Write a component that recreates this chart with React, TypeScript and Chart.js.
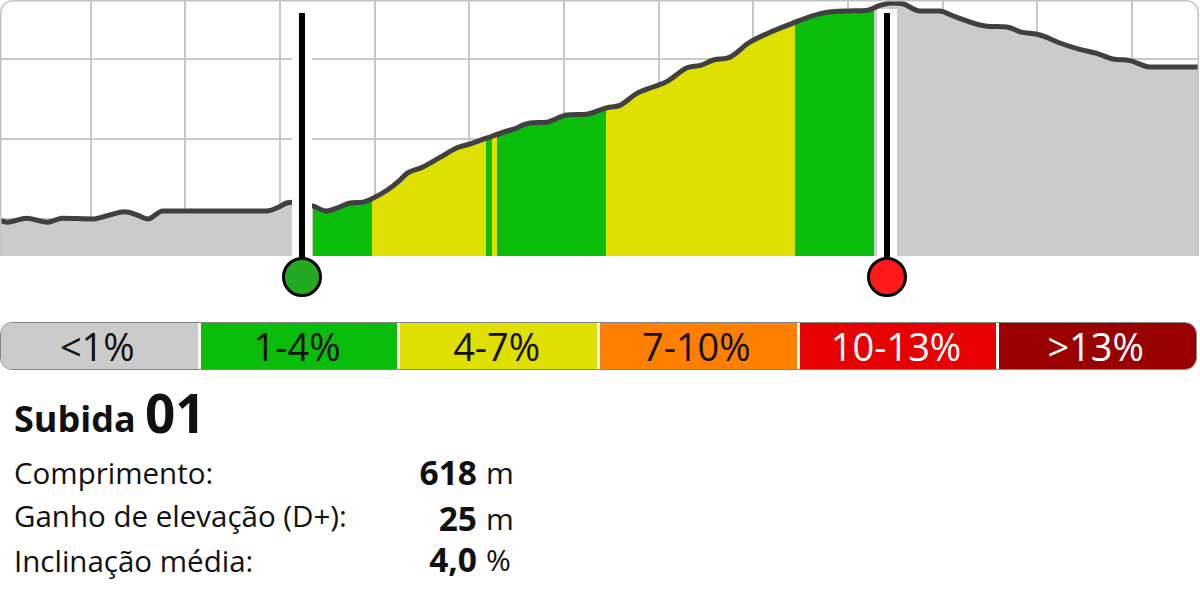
import React, { useEffect, useRef } from 'react';
import Chart from 'chart.js/auto';

// profile: distance (m) / elevation (m)
const distance = [
    4, 12, 32, 54, 70, 102, 117, 136, 149, 160, 176, 187, 286, 297, 307, 313, 323, 335, 349, 363,
    374, 387, 398, 413, 427, 434, 451, 469, 487, 501, 518, 540, 546, 564, 582, 603, 624, 645, 659,
    677, 694, 709, 730, 744, 759, 775, 795, 815, 840, 872, 901, 921, 934, 947, 958, 976, 997, 1011,
    1047, 1068, 1082, 1103, 1124, 1145, 1163, 1180, 1198, 1219, 1270,
];
const elevation = [
    109.8, 109.6, 110.1, 109.6, 110.1, 110.0, 110.4, 110.9, 110.5, 110.0, 111.0, 111.0, 111.0, 111.4,
    112.0, 112.1, 111.9, 111.6, 111.0, 111.5, 112.0, 112.1, 112.6, 113.6, 114.9, 115.7, 116.5, 117.7,
    118.9, 119.4, 120.1, 121.0, 121.2, 122.0, 122.1, 123.0, 123.1, 123.9, 124.2, 125.7, 126.5, 127.2,
    128.9, 129.2, 129.9, 130.2, 132.0, 133.2, 134.4, 135.7, 136.0, 136.1, 136.7, 137.0, 136.9, 136.0,
    136.0, 135.4, 134.1, 134.0, 133.4, 133.0, 132.0, 131.2, 130.7, 130.0, 129.8, 129.0, 129.0,
];

// grade zones inside the climb (bounds in m, grade class index)
const zoneBounds = [335, 397, 518, 524, 529, 644, 844, 928];
const zoneGrade = [1, 2, 1, 2, 1, 2, 1];

const climbStart = 323;
const climbEnd = 941;

const gradeLabels = ['<1%', '1-4%', '4-7%', '7-10%', '10-13%', '>13%'];
const gradeColors = ['#cbcbcb', '#0abd0a', '#dfdf00', '#ff8000', '#e60000', '#990000'];
const gradeText = ['#111', '#111', '#111', '#111', '#fff', '#fff'];

const statLabels = ['Comprimento:', 'Ganho de elevação (D+):', 'Inclinação média:'];
const statValues = ['618', '25', '4,0'];
const statUnits = ['m', 'm', '%'];

const FONT = "'Open Sans', 'Noto Sans', sans-serif";

const profilePlugin = {
    id: 'profileExtras',
    beforeDatasetDraw(chart: any, args: any) {
        if (args.index !== 0) return;
        const { ctx, chartArea, scales } = chart;
        const meta = chart.getDatasetMeta(0);
        const line = meta.dataset;
        const pts = meta.data;
        for (let i = 0; i < zoneGrade.length; i++) {
            const x1 = Math.round(scales.x.getPixelForValue(zoneBounds[i]));
            const x2 = Math.round(scales.x.getPixelForValue(zoneBounds[i + 1]));
            ctx.save();
            ctx.beginPath();
            ctx.rect(x1, chartArea.top, x2 - x1, chartArea.bottom - chartArea.top);
            ctx.clip();
            ctx.beginPath();
            if (typeof line.path === 'function') {
                line.path(ctx);
            } else {
                pts.forEach((p: any, j: number) => (j ? ctx.lineTo(p.x, p.y) : ctx.moveTo(p.x, p.y)));
            }
            ctx.lineTo(pts[pts.length - 1].x, chartArea.bottom);
            ctx.lineTo(pts[0].x, chartArea.bottom);
            ctx.closePath();
            ctx.fillStyle = gradeColors[zoneGrade[i]];
            ctx.fill();
            ctx.restore();
        }
    },
    afterDatasetsDraw(chart: any) {
        const { ctx, chartArea, scales } = chart;
        const markers: [number, string][] = [
            [climbStart, '#22aa22'],
            [climbEnd, '#ff1a1a'],
        ];
        markers.forEach(([at, color]) => {
            const px = Math.round(scales.x.getPixelForValue(at));
            ctx.save();
            ctx.fillStyle = '#fff';
            ctx.fillRect(px - 10, chartArea.top + 9, 20, chartArea.bottom - chartArea.top - 9);
            ctx.fillStyle = '#000';
            ctx.fillRect(px - 3, chartArea.top + 13, 6, chartArea.bottom - chartArea.top);
            ctx.beginPath();
            ctx.arc(px, chartArea.bottom + 21, 18.5, 0, Math.PI * 2);
            ctx.fillStyle = color;
            ctx.fill();
            ctx.lineWidth = 3;
            ctx.strokeStyle = '#000';
            ctx.stroke();
            ctx.restore();
        });
    },
    afterDraw(chart: any) {
        // rounded card border round the profile
        const { ctx, chartArea } = chart;
        const l = chartArea.left + 0.75;
        const r = chartArea.right + 0.25;
        const t = 0.75;
        const b = chartArea.bottom;
        ctx.save();
        ctx.strokeStyle = '#c4c4c4';
        ctx.lineWidth = 1.5;
        ctx.beginPath();
        ctx.moveTo(l, b);
        ctx.arcTo(l, t, r, t, 12);
        ctx.arcTo(r, t, r, b, 12);
        ctx.lineTo(r, b);
        ctx.stroke();
        ctx.restore();
    },
};

const ProfileChart = () => {
    const chartRef = useRef<HTMLCanvasElement>(null);

    useEffect(() => {
        if (!chartRef.current) return;
        const grid = { color: '#c8c8c8', lineWidth: 2, drawTicks: false };
        const chart = new Chart(chartRef.current, {
            type: 'line',
            data: {
                datasets: [
                    {
                        data: distance.map((d, i) => ({ x: d, y: elevation[i] })),
                        borderColor: '#404040',
                        borderWidth: 5,
                        pointRadius: 0,
                        fill: 'start',
                        backgroundColor: gradeColors[0],
                        cubicInterpolationMode: 'monotone',
                        borderJoinStyle: 'round',
                        borderCapStyle: 'round',
                    },
                ],
            },
            options: {
                animation: false,
                responsive: true,
                maintainAspectRatio: false,
                layout: { padding: { left: 0, right: 2, top: 0, bottom: 44 } },
                plugins: { legend: { display: false }, tooltip: { enabled: false } },
                scales: {
                    x: {
                        type: 'linear',
                        min: 4,
                        max: 1270,
                        ticks: { display: false, stepSize: 100 },
                        grid,
                        border: { display: false },
                        afterBuildTicks: (s: any) => {
                            s.ticks = s.ticks.filter((t: any) => t.value % 100 === 0);
                        },
                    },
                    y: {
                        min: 105.375,
                        max: 137.375,
                        ticks: { display: false, stepSize: 10 },
                        grid,
                        border: { display: false },
                        afterBuildTicks: (s: any) => {
                            s.ticks = s.ticks.filter((t: any) => t.value % 10 === 0);
                        },
                    },
                },
            },
            plugins: [profilePlugin],
        } as any);

        return () => {
            chart.destroy();
        };
    }, []);

    return <canvas ref={chartRef} />;
};

export default function App() {
    const labelTops = [457.5, 500.5, 546];
    const valueTops = [456, 501.5, 543];
    return (
        <div
            style={{
                position: 'relative',
                width: 1200,
                height: 600,
                overflow: 'hidden',
                background: '#fff',
                fontFamily: FONT,
                color: '#111',
            }}
        >
            <style>{'body{margin:0}'}</style>
            <div style={{ position: 'absolute', left: 0, top: 0, width: 1200, height: 300 }}>
                <ProfileChart />
            </div>

            <div
                style={{
                    position: 'absolute',
                    left: 0,
                    top: 322,
                    width: 1197,
                    height: 48,
                    boxSizing: 'border-box',
                    border: '1.5px solid #858585',
                    borderRadius: 12,
                    overflow: 'hidden',
                    display: 'flex',
                    gap: 3,
                    background: '#fff',
                }}
            >
                {gradeLabels.map((l, i) => (
                    <div
                        key={l}
                        style={{
                            flex: 1,
                            background: gradeColors[i],
                            color: gradeText[i],
                            display: 'flex',
                            alignItems: 'center',
                            justifyContent: 'center',
                            fontSize: 38,
                            lineHeight: 1,
                            paddingRight: 4,
                        }}
                    >
                        {l}
                    </div>
                ))}
            </div>

            <div style={{ position: 'absolute', left: 14, top: 401, fontSize: 36, lineHeight: 1, fontWeight: 700 }}>
                Subida
            </div>
            <div style={{ position: 'absolute', left: 145, top: 386, fontSize: 53, lineHeight: 1, fontWeight: 700 }}>
                01
            </div>

            {statLabels.map((l, i) => (
                <React.Fragment key={l}>
                    <div style={{ position: 'absolute', left: 14, top: labelTops[i], fontSize: 29.5, lineHeight: 1 }}>
                        {l}
                    </div>
                    <div
                        style={{
                            position: 'absolute',
                            right: 1200 - 477,
                            top: valueTops[i],
                            fontSize: 33.5,
                            lineHeight: 1,
                            fontWeight: 700,
                            textAlign: 'right',
                        }}
                    >
                        {statValues[i]}
                    </div>
                    <div
                        style={{
                            position: 'absolute',
                            left: 486,
                            top: valueTops[i] + 2,
                            fontSize: 30,
                            lineHeight: 1,
                        }}
                    >
                        {statUnits[i]}
                    </div>
                </React.Fragment>
            ))}
        </div>
    );
}
